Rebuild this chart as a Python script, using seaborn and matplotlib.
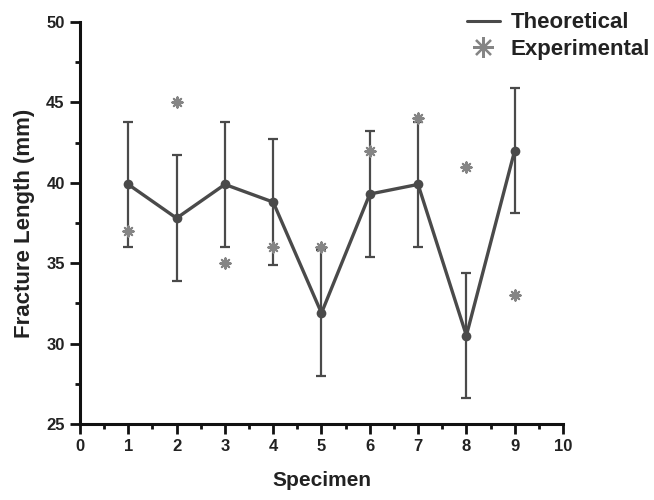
import matplotlib
matplotlib.use("Agg")
import matplotlib.pyplot as plt
from matplotlib.ticker import MultipleLocator
from matplotlib.lines import Line2D
import seaborn as sns
import pandas as pd

specimen = [1, 2, 3, 4, 5, 6, 7, 8, 9]
theoretical = [39.9, 37.8, 39.9, 38.8, 31.9, 39.3, 39.9, 30.5, 42.0]
errors = [3.9, 3.9, 3.9, 3.9, 3.9, 3.9, 3.9, 3.9, 3.9]
experimental = [37.0, 45.0, 35.0, 36.0, 36.0, 42.0, 44.0, 41.0, 33.0]

sns.set_theme(style="ticks")
plt.rcParams['font.family'] = ['Liberation Sans', 'DejaVu Sans']
plt.rcParams['font.weight'] = 'bold'

df = pd.DataFrame({"Specimen": specimen, "Theoretical": theoretical,
                   "err": errors, "Experimental": experimental})

line_c = "#4a4a4a"
star_c = "#858585"
star_marker = (8, 2, 0)

fig = plt.figure(figsize=(6.54, 5.0), dpi=100)
ax = fig.add_axes([0.1223, 0.152, 0.7385, 0.804])

ax.errorbar(df["Specimen"], df["Theoretical"], yerr=df["err"], fmt="none",
            ecolor=line_c, elinewidth=1.6, capsize=3.8, capthick=1.6, zorder=2)
sns.lineplot(data=df, x="Specimen", y="Theoretical", ax=ax, color=line_c,
             linewidth=2.4, marker="o", markersize=7, markeredgewidth=0,
             zorder=3, legend=False)
sns.scatterplot(data=df, x="Specimen", y="Experimental", ax=ax, color=star_c,
                marker=star_marker, s=55, linewidth=1.5, edgecolor=star_c,
                zorder=4, legend=False)

ax.set_xlim(0, 10)
ax.set_ylim(25, 50)
ax.xaxis.set_major_locator(MultipleLocator(1))
ax.xaxis.set_minor_locator(MultipleLocator(0.5))
ax.yaxis.set_major_locator(MultipleLocator(5))
ax.yaxis.set_minor_locator(MultipleLocator(2.5))
for s in ["top", "right"]:
    ax.spines[s].set_visible(False)
for s in ["left", "bottom"]:
    ax.spines[s].set_linewidth(2.2)
    ax.spines[s].set_color("#111111")
ax.tick_params(which="major", direction="out", length=7, width=2.0,
               labelsize=12, colors="#111111", pad=4)
ax.tick_params(which="minor", direction="out", length=3.5, width=2.0,
               colors="#111111")
for lab in ax.get_xticklabels() + ax.get_yticklabels():
    lab.set_fontweight("bold")
    lab.set_color("#222222")

ax.set_xlabel("Specimen", fontsize=15, fontweight="bold", color="#222222", labelpad=12)
ax.set_ylabel("Fracture Length (mm)", fontsize=16, fontweight="bold", color="#222222", labelpad=8)

handles = [Line2D([0], [0], color=line_c, linewidth=2.2),
           Line2D([0], [0], color=star_c, marker=star_marker, linestyle="none",
                  markersize=15, markeredgewidth=1.6)]
leg = fig.legend(handles, ["Theoretical", "Experimental"], loc="upper right",
                 bbox_to_anchor=(1.025, 1.015), frameon=False, fontsize=16,
                 handlelength=1.5, handletextpad=0.5, labelspacing=0.25)
for t in leg.get_texts():
    t.set_fontweight("bold")
    t.set_color("#222222")

fig.savefig("out.png", dpi=100)
